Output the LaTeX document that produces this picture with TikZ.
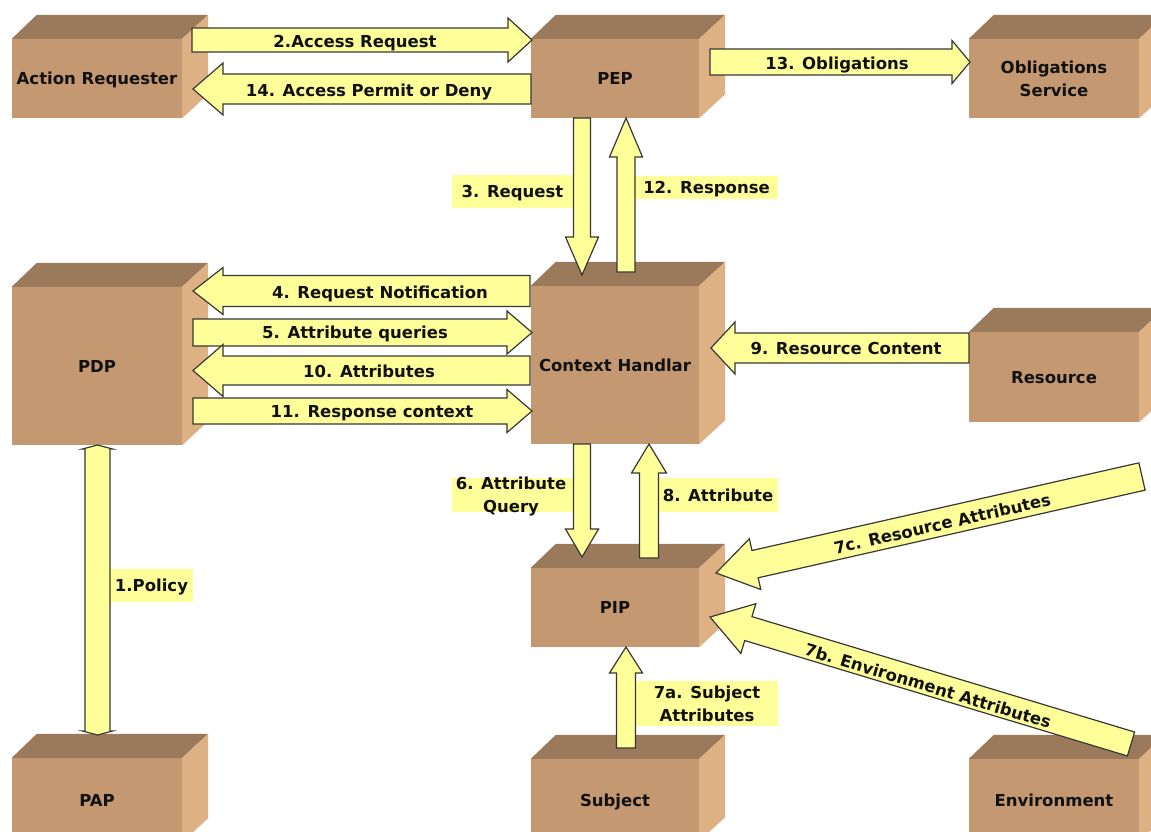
\documentclass[tikz,border=0pt]{standalone}
\usepackage{fontspec}
\setmainfont{DejaVu Sans}
\usetikzlibrary{calc}

\definecolor{boxfront}{RGB}{196,153,113}
\definecolor{boxtop}{RGB}{155,122,91}
\definecolor{boxside}{RGB}{222,177,133}
\definecolor{arrowfill}{RGB}{255,255,153}
\definecolor{arrowline}{RGB}{55,55,55}
\definecolor{ink}{RGB}{17,17,17}

\newcommand\lblfont{\bfseries\fontsize{16.5}{23}\selectfont}

% 3-D crate: front face is the named node, top and side faces drawn behind it
\newcommand\crate[6][oneline]{%
  \node[front,#1,minimum width=#4pt,minimum height=#5pt] (#2) at (#3) {#6};
  \fill[boxtop] (#2.north west) -- (#2.north east) -- ++(26pt,24pt)
     -- ($(#2.north west)+(25pt,24pt)$) -- cycle;
  \fill[boxside] (#2.north east) -- ++(26pt,24pt)
     -- ($(#2.south east)+(26pt,24pt)$) -- (#2.south east) -- cycle;
}

% block arrow between two named coordinates:
% #4 shaft half width, #5 head half width, #6 head length (all in pt)
\newcommand\blockarrow[6][]{%
  \pgfpointanchor{#2}{center}\pgfgetlastxy\bax\bay
  \pgfpointanchor{#3}{center}\pgfgetlastxy\bbx\bby
  \pgfmathsetmacro\bang{atan2((\bby)-(\bay),(\bbx)-(\bax))}
  \pgfmathsetmacro\blen{veclen((\bbx)-(\bax),(\bby)-(\bay))}
  \pgfmathsetmacro\bhb{\blen-#6}
  \draw[arrowbody,shift={(\bax,\bay)},rotate=\bang,#1]
    (0pt,-#4pt) -- (\bhb pt,-#4pt) -- (\bhb pt,-#5pt) -- (\blen pt,0pt)
    -- (\bhb pt,#5pt) -- (\bhb pt,#4pt) -- (0pt,#4pt) -- cycle;
}

% block arrow with a head at both ends
\newcommand\dblarrow[6][]{%
  \pgfpointanchor{#2}{center}\pgfgetlastxy\bax\bay
  \pgfpointanchor{#3}{center}\pgfgetlastxy\bbx\bby
  \pgfmathsetmacro\bang{atan2((\bby)-(\bay),(\bbx)-(\bax))}
  \pgfmathsetmacro\blen{veclen((\bbx)-(\bax),(\bby)-(\bay))}
  \pgfmathsetmacro\bhb{\blen-#6}
  \draw[arrowbody,shift={(\bax,\bay)},rotate=\bang,#1]
    (0pt,0pt) -- (#6pt,#5pt) -- (#6pt,#4pt) -- (\bhb pt,#4pt) -- (\bhb pt,#5pt)
    -- (\blen pt,0pt) -- (\bhb pt,-#5pt) -- (\bhb pt,-#4pt) -- (#6pt,-#4pt)
    -- (#6pt,-#5pt) -- cycle;
}

\begin{document}
\begin{tikzpicture}[x=1pt,y=-1pt,
  front/.style={fill=boxfront,inner sep=0pt,font=\lblfont,text=ink,align=center},
  oneline/.style={text height=12.2pt,text depth=0pt},
  arrowbody/.style={fill=arrowfill,draw=arrowline,line width=1.2pt,line join=miter},
  tag/.style={fill=arrowfill,inner sep=0pt,font=\lblfont,text=ink,align=center},
  atext/.style={font=\lblfont,text=ink,inner sep=0pt,oneline}]

\useasboundingbox (0,0) rectangle (1151,832);
\clip (0,0) rectangle (1151,832);
\fill[white] (0,0) rectangle (1151,832);

% ---------- components ----------
\crate{req}{97,78.5}{170}{79}{Action Requester}
\crate{pep}{615,78.5}{168}{79}{PEP}
\crate[]{obl}{1054,78.5}{170}{79}{Obligations\\Service}
\crate{pdp}{97,366}{170}{158}{PDP}
\crate{ctx}{615,365}{168}{158}{Context Handlar}
\crate{res}{1054,377}{170}{90}{Resource}
\crate{pip}{615,607.5}{168}{79}{PIP}
\crate{sub}{615,800}{168}{82}{Subject}
\crate{pap}{97,800}{170}{84}{PAP}
\crate{env}{1054,800}{170}{82}{Environment}

% ---------- side labels of the vertical flows ----------
\node[tag,oneline,minimum width=121pt,minimum height=33pt] (l3) at (512.5,191.5) {3. Request};
\node[tag,oneline,minimum width=143pt,minimum height=23pt] (l12) at (706.5,187) {12. Response};
\node[tag,minimum width=121pt,minimum height=34pt] (l6bg) at (512.5,495) {};
\node[tag,minimum width=120pt,minimum height=34pt,oneline] (l8) at (718,495) {8. Attribute};
\node[tag,minimum width=142pt,minimum height=45pt] (l7a) at (707,703.5) {7a. Subject\\Attributes};
\node[tag,oneline,minimum width=83pt,minimum height=33pt] (l1) at (151.5,585.5) {1.Policy};
\node[font=\lblfont,text=ink,align=center,inner sep=0pt] (l6) at (511,497) {6. Attribute\\Query};

% ---------- arrow end points ----------
\coordinate (a2s) at (192,40);    \coordinate (a2e) at (532,40);
\coordinate (a14s) at (531,89);   \coordinate (a14e) at (193,89);
\coordinate (a13s) at (710,62);   \coordinate (a13e) at (970,62);
\coordinate (a3s) at (582,118);   \coordinate (a3e) at (582,275);
\coordinate (a12s) at (626,272);  \coordinate (a12e) at (626,118);
\coordinate (a4s) at (530,291);   \coordinate (a4e) at (193,291);
\coordinate (a5s) at (193,332.5); \coordinate (a5e) at (532,332.5);
\coordinate (a10s) at (530,370.5);\coordinate (a10e) at (193,370.5);
\coordinate (a11s) at (193,411);  \coordinate (a11e) at (532,411);
\coordinate (a9s) at (969,348);   \coordinate (a9e) at (711,348);
\coordinate (a6s) at (582,444);   \coordinate (a6e) at (582,557);
\coordinate (a8s) at (649,558);   \coordinate (a8e) at (649,444);
\coordinate (a7as) at (626,748);  \coordinate (a7ae) at (626,647);
\coordinate (a7cs) at (1142,476.5);\coordinate (a7ce) at (716,573);
\coordinate (a7bs) at (1131,744); \coordinate (a7be) at (710,617);
\coordinate (a1s) at (97.5,445);  \coordinate (a1e) at (97.5,735);

% ---------- flows ----------
\blockarrow{a2s}{a2e}{12}{22}{24}
\blockarrow{a14s}{a14e}{15}{26}{30}
\blockarrow{a13s}{a13e}{13}{21.5}{18}
\blockarrow{a3s}{a3e}{8.5}{16.5}{38}
\blockarrow{a12s}{a12e}{9}{16.5}{39}
\blockarrow{a4s}{a4e}{15.5}{23.5}{30}
\blockarrow{a5s}{a5e}{13.5}{21.5}{25}
\blockarrow{a10s}{a10e}{14.5}{26}{30}
\blockarrow{a11s}{a11e}{13}{21.5}{25}
\blockarrow{a9s}{a9e}{15}{26}{24}
\blockarrow{a6s}{a6e}{8.5}{16.5}{28}
\blockarrow{a8s}{a8e}{9.5}{17.5}{29}
\blockarrow{a7as}{a7ae}{9.5}{16.5}{26}
\blockarrow{a7cs}{a7ce}{14}{26}{40}
\blockarrow{a7bs}{a7be}{12.5}{26}{40}
\dblarrow{a1s}{a1e}{12.5}{15}{4}

% ---------- flow captions ----------
\node[atext] (t2) at (355,41) {2.Access Request};
\node[atext] (t14) at (369,90) {14. Access Permit or Deny};
\node[atext] (t13) at (837,63) {13. Obligations};
\node[atext] (t4) at (380,292) {4. Request Notification};
\node[atext] (t5) at (355,332) {5. Attribute queries};
\node[atext] (t10) at (369,371) {10. Attributes};
\node[atext] (t11) at (372,411) {11. Response context};
\node[atext] (t9) at (846,348) {9. Resource Content};
\path (a7ce) -- (a7cs) node[atext,sloped,pos=0.53,yshift=-2pt] (t7c) {7c. Resource Attributes};
\path (a7be) -- (a7bs) node[atext,sloped,pos=0.52,yshift=-3pt] (t7b) {7b. Environment Attributes};

\end{tikzpicture}
\end{document}
